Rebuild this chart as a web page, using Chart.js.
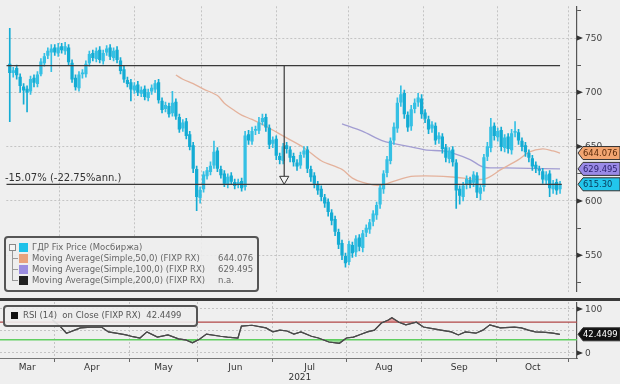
<!DOCTYPE html>
<html>
<head>
<meta charset="utf-8">
<script src="https://cdn.jsdelivr.net/npm/chart.js@4.4.1/dist/chart.umd.min.js"></script>
<style>
  body { margin: 0; width: 620px; height: 384px; overflow: hidden; position: relative; background: #efefef; font-family: "DejaVu Sans", sans-serif; }
  #main { position: absolute; left: 0; top: 0; }
  #rsi { position: absolute; left: 0; top: 302px; }
  #sep { position: absolute; left: 0; top: 298px; width: 620px; height: 3px; background: #3a3a3a; }
  #note { position: absolute; left: 5px; top: 172px; font-size: 10px; line-height: 12px; color: #333; white-space: nowrap; }
  .box { position: absolute; border: 2px solid #555; border-radius: 4px; background: rgba(237,237,237,0.9); font-size: 8.5px; color: #666; }
  .box span { position: absolute; white-space: pre; line-height: 11px; }
  .sw { width: 9px; height: 9px; }
  #leg { left: 4px; top: 236px; width: 251px; height: 52px; }
  #rleg { left: 3px; top: 305px; width: 191px; height: 18px; color: #555; }
  .tree-box { left: 3px; top: 6px; width: 5px; height: 5px; border: 1px solid #888; background: #f4f4f4; }
  .tree-v { left: 6px; top: 13px; width: 1px; height: 30px; background: #999; }
  .tree-h { left: 6px; width: 6px; height: 1px; background: #999; }
</style>
</head>
<body>
<canvas id="main" width="620" height="298"></canvas>
<div id="sep"></div>
<canvas id="rsi" width="620" height="82"></canvas>
<div id="note">-15.07% (-22.75%ann.)</div>
<div id="leg" class="box">
  <span class="tree-box"></span><span class="tree-v"></span>
  <span class="tree-h" style="top:20px"></span><span class="tree-h" style="top:31px"></span><span class="tree-h" style="top:42px"></span>
  <span class="sw" style="left:13px;top:5px;background:#1fc1e9"></span>
  <span style="left:26px;top:4px">ГДР Fix Price (Мосбиржа)</span>
  <span class="sw" style="left:13px;top:16px;background:#e9a27c"></span>
  <span style="left:26px;top:15px">Moving Average(Simple,50,0) (FIXP RX)</span>
  <span id="v50" style="left:212px;top:15px"></span>
  <span class="sw" style="left:13px;top:27px;background:#9b8de0"></span>
  <span style="left:26px;top:26px">Moving Average(Simple,100,0) (FIXP RX)</span>
  <span id="v100" style="left:212px;top:26px"></span>
  <span class="sw" style="left:13px;top:38px;background:#222"></span>
  <span style="left:26px;top:37px">Moving Average(Simple,200,0) (FIXP RX)</span>
  <span style="left:212px;top:37px">n.a.</span>
</div>
<div id="rleg" class="box">
  <span class="sw" style="left:6px;top:5px;width:7px;height:7px;background:#111"></span>
  <span id="rsiText" style="left:18px;top:3px"></span>
</div>
<script>
// daily candles, FIXP RX (trading-day index along x)
const opens = [
  726,718,722,714,705,703,701,713,708,717,
  727,734,737,741,736,742,738,741,727,713,
  704,717,717,727,736,731,739,729,737,741,
  732,739,729,721,711,709,702,707,699,703,
  695,701,703,709,692,685,687,681,691,677,
  667,673,661,651,629,603,611,623,627,633,
  646,629,625,615,623,617,615,618,613,661,
  655,665,665,673,677,667,653,657,641,637,
  651,647,641,635,633,643,647,629,623,615,
  611,603,599,589,583,571,561,549,544,559,
  553,566,557,571,574,581,587,597,611,626,
  637,656,667,691,699,679,669,685,691,694,
  681,675,667,669,657,659,649,639,647,635,
  611,604,615,619,617,623,607,613,641,649,
  669,659,665,649,659,647,663,663,655,651,
  644,639,633,629,627,619,625,611,617,611
];
const highs = [
  759,723,725,717,708,706,715,716,719,731,
  736,741,744,744,745,745,746,744,730,716,
  719,721,729,738,739,741,742,739,743,744,
  741,742,732,724,714,712,709,710,705,706,
  703,707,711,712,695,691,690,701,694,680,
  675,676,664,654,632,613,627,631,636,655,
  649,632,628,625,626,620,620,621,664,665,
  668,669,677,680,680,670,659,660,644,653,
  654,650,644,638,645,650,650,632,626,618,
  614,606,602,592,586,574,564,552,563,562,
  568,569,573,578,583,591,599,615,628,641,
  658,672,695,706,702,682,688,694,699,698,
  684,678,673,672,663,662,652,649,650,638,
  614,617,623,622,627,626,615,643,654,676,
  672,667,668,661,662,666,673,666,658,654,
  647,642,636,632,630,627,628,619,620,618
];
const lows = [
  673,714,712,700,689,682,698,705,705,715,
  724,731,719,734,733,736,735,725,709,702,
  701,713,714,724,729,728,727,726,734,730,
  729,727,717,709,705,692,699,697,696,693,
  692,698,700,690,681,682,677,678,675,663,
  664,657,647,626,591,598,608,620,624,630,
  627,621,613,612,615,611,612,609,610,652,
  652,661,662,670,664,648,649,638,634,634,
  644,636,632,628,630,640,626,618,612,606,
  600,594,586,578,568,556,546,539,541,548,
  549,554,553,567,570,577,583,593,607,622,
  634,652,663,687,676,664,665,681,687,676,
  672,662,663,652,653,644,636,635,632,593,
  597,600,611,612,613,603,601,609,637,645,
  656,655,646,645,644,643,659,652,646,641,
  636,628,626,624,616,615,604,607,606,607
];
const closes = [
  718,720,716,706,702,700,712,709,716,728,
  733,738,740,737,741,739,742,728,712,705,
  716,718,726,735,732,738,730,736,740,733,
  738,730,720,712,708,703,706,700,702,696,
  700,704,708,693,684,688,680,690,678,666,
  672,660,650,630,604,610,624,628,632,645,
  630,624,616,622,618,614,617,612,660,656,
  664,666,672,676,668,652,656,642,638,650,
  648,640,636,632,642,646,630,622,616,610,
  604,598,590,582,572,560,550,543,560,552,
  565,558,570,575,580,588,596,612,625,638,
  655,668,690,698,680,668,684,690,695,680,
  676,666,670,656,660,648,640,646,636,610,
  605,614,620,616,624,608,612,640,650,668,
  660,664,650,658,648,662,664,656,650,645,
  640,632,630,628,620,624,612,616,610,615.3
];

// moving averages (day index, value)
const ma50Idx = [48,50,53,56,60,62,65,67,70,75,80,85,90,96,99,102,107,110,115,120,128,137,142,147,150,154,157,159];
const ma50Val = [716,712,708,703,697,690,683,679,675,667,658,649,637,629,621,617,614,617,622,623,622,620,629,638,645,648,646,644.076];
const ma100Idx = [96,102,108,114,120,125,128,133,137,143,150,159];
const ma100Val = [671,664,655,651,647,646,644,638,631,630.5,630,629.495];

// RSI(14)
const rsiIdx = [14,16,18,22,25,28,30,33,35,37,39,41,44,47,50,52,54,56,58,62,64,67,68,71,75,77,79,81,83,85,88,90,93,96,98,100,102,104,106,108,110,111,113,115,118,120,123,125,128,130,132,135,137,139,142,146,148,150,152,155,157,159];
const rsiVal = [75,62,45,57,59,59,48,44,41,37,34,48,36,41,32,30,23,31,43,38,36,34,61,63,57,48,52,50,43,48,38,34,25,22,34,36,42,48,52,68,75,80,70,64,70,59,55,52,48,41,48,45,52,64,57,59,57,52,48,47,45,42.4499];

// trend annotation
const trendTop = 724.5, trendBottom = 615.3, trendIdx = 79.3, arrowTipBase = 622.6, arrowAt = 620.2;

// axes
const xMin = -1, xMax = 163.9;
const monthNames = ["Mar","Apr","May","Jun","Jul","Aug","Sep","Oct"];
const monthBounds = [14.5, 36, 55.5, 77, 98, 119.5, 141, 161.5];
const priceTicks = [525,550,575,600,625,650,675,700,725,750,775];
const priceLabels = [550,600,650,700,750];
const rsiGridTicks = [0,50,100];
const rsiLabels = [0,100];
const yearText = "2021", yearAt = 84.7;

const FONT = '"DejaVu Sans", sans-serif';
const last = closes.length - 1;

document.getElementById("v50").textContent = ma50Val[ma50Val.length - 1].toFixed(3);
document.getElementById("v100").textContent = ma100Val[ma100Val.length - 1].toFixed(3);
document.getElementById("rsiText").textContent = "RSI (14)  on Close (FIXP RX)  " + rsiVal[rsiVal.length - 1].toFixed(4);

const monthMids = monthBounds.map((b, k) => ((k === 0 ? xMin : monthBounds[k - 1]) + b) / 2);

function drawTag(ctx, x, y, text, bg, fg) {
  const h = 13;
  ctx.beginPath();
  ctx.moveTo(x, y);
  ctx.lineTo(x + 5, y - h / 2);
  ctx.lineTo(620, y - h / 2);
  ctx.lineTo(620, y + h / 2);
  ctx.lineTo(x + 5, y + h / 2);
  ctx.closePath();
  ctx.fillStyle = bg;
  ctx.fill();
  ctx.strokeStyle = "#333";
  ctx.lineWidth = 1;
  ctx.stroke();
  ctx.fillStyle = fg;
  ctx.font = "8.4px " + FONT;
  ctx.textAlign = "left";
  ctx.textBaseline = "middle";
  ctx.fillText(text, x + 5, y + 0.5);
}

function drawAxisLabels(ctx, area, scale, values) {
  ctx.font = "9px " + FONT;
  ctx.textBaseline = "middle";
  ctx.textAlign = "left";
  values.forEach(v => {
    const py = scale.getPixelForValue(v);
    ctx.fillStyle = "#333";
    ctx.beginPath();
    ctx.moveTo(area.right, py - 2.5);
    ctx.lineTo(area.right + 6, py);
    ctx.lineTo(area.right, py + 2.5);
    ctx.fill();
    ctx.fillStyle = "#444";
    ctx.fillText(String(v), area.right + 8, py + 0.5);
  });
}

const priceAxisPlugin = {
  id: "priceAxis",
  afterDraw(chart) {
    const { ctx, chartArea, scales } = chart;
    ctx.save();
    drawAxisLabels(ctx, chartArea, scales.y, priceLabels);
    const x0 = chartArea.right + 1;
    drawTag(ctx, x0, scales.y.getPixelForValue(ma50Val[ma50Val.length - 1]), ma50Val[ma50Val.length - 1].toFixed(3), "#f2a571", "#5a2a0a");
    drawTag(ctx, x0, scales.y.getPixelForValue(ma100Val[ma100Val.length - 1]), ma100Val[ma100Val.length - 1].toFixed(3), "#9a8ae6", "#2e2270");
    drawTag(ctx, x0, scales.y.getPixelForValue(closes[last]), closes[last].toFixed(2), "#22c6ec", "#083a5a");
    ctx.restore();
  }
};

const rsiAxisPlugin = {
  id: "rsiAxis",
  afterDraw(chart) {
    const { ctx, chartArea, scales } = chart;
    ctx.save();
    drawAxisLabels(ctx, chartArea, scales.y, rsiLabels);
    const v = rsiVal[rsiVal.length - 1];
    drawTag(ctx, chartArea.right + 1, scales.y.getPixelForValue(v), v.toFixed(4), "#111", "#fff");
    ctx.font = "9px " + FONT;
    ctx.fillStyle = "#333";
    ctx.textAlign = "center";
    ctx.textBaseline = "middle";
    ctx.fillText(yearText, scales.x.getPixelForValue(yearAt), chartArea.bottom + 20);
    ctx.restore();
  }
};

const candleUp = "#35c0e4";
const candleDown = "#14acd4";
const candleColor = ctx => {
  const i = ctx.dataIndex;
  return closes[i] >= opens[i] ? candleUp : candleDown;
};

const wickData = closes.map((c, i) => ({ x: i, y: [lows[i], highs[i]] }));
const bodyData = closes.map((c, i) => ({ x: i, y: [opens[i], c] }));

new Chart(document.getElementById("main"), {
  type: "bar",
  data: {
    datasets: [
      { type: "line", data: [{ x: trendIdx, y: arrowAt }], showLine: false, pointStyle: "triangle", rotation: 180, pointRadius: 5.3, pointBackgroundColor: "#f4f4f4", pointBorderColor: "#333", pointBorderWidth: 1, order: 0 },
      { type: "line", data: [{ x: xMin, y: trendTop }, { x: last, y: trendTop }], borderColor: "#3a3a3a", borderWidth: 1.2, pointRadius: 0, order: 1 },
      { type: "line", data: [{ x: xMin, y: trendBottom }, { x: last + 0.5, y: trendBottom }], borderColor: "#3a3a3a", borderWidth: 1.2, pointRadius: 0, order: 1 },
      { type: "line", data: [{ x: trendIdx, y: trendTop }, { x: trendIdx, y: arrowTipBase }], borderColor: "#3a3a3a", borderWidth: 1.2, pointRadius: 0, order: 1 },
      { type: "bar", data: bodyData, backgroundColor: candleColor, barThickness: 2.6, minBarLength: 1, grouped: false, order: 2 },
      { type: "bar", data: wickData, backgroundColor: candleColor, barThickness: 1, grouped: false, order: 3 },
      { type: "line", data: ma50Idx.map((x, k) => ({ x, y: ma50Val[k] })), borderColor: "#e4b29c", borderWidth: 1.3, pointRadius: 0, tension: 0.3, order: 5 },
      { type: "line", data: ma100Idx.map((x, k) => ({ x, y: ma100Val[k] })), borderColor: "#a29dd2", borderWidth: 1.3, pointRadius: 0, tension: 0.3, order: 5 }
    ]
  },
  options: {
    responsive: false,
    animation: false,
    devicePixelRatio: 1,
    layout: { padding: 0 },
    plugins: { legend: { display: false }, tooltip: { enabled: false } },
    scales: {
      x: {
        type: "linear", min: xMin, max: xMax, offset: false,
        afterBuildTicks: s => { s.ticks = monthBounds.map(v => ({ value: v })); },
        afterFit: s => { s.height = 0; },
        ticks: { display: false },
        grid: { color: "#c4c4c4", drawTicks: false, offset: false },
        border: { display: false, dash: [2, 2] }
      },
      y: {
        position: "right", min: 516.4, max: 779.2,
        afterBuildTicks: s => { s.ticks = priceTicks.map(v => ({ value: v })); },
        afterFit: s => { s.width = 43; },
        ticks: { display: false },
        grid: {
          color: c => (c.tick && priceLabels.includes(c.tick.value)) ? "#c4c4c4" : "rgba(0,0,0,0)",
          tickColor: "#555", tickLength: 4, drawTicks: true
        },
        border: { display: true, color: "#555", width: 1.2, dash: [2, 2] }
      }
    }
  },
  plugins: [priceAxisPlugin]
});

const rsiPoints = rsiIdx.map((x, k) => ({ x, y: rsiVal[k] }));
const xTickVals = monthMids.concat(monthBounds).sort((a, b) => a - b);

new Chart(document.getElementById("rsi"), {
  type: "line",
  data: {
    datasets: [
      { data: rsiPoints, borderColor: "#4a4a4a", borderWidth: 1.2, pointRadius: 0, fill: { target: { value: 70 }, above: "rgba(205,70,70,0.45)", below: "rgba(0,0,0,0)" }, order: 1 },
      { data: rsiPoints, borderColor: "#4a4a4a", borderWidth: 1.2, pointRadius: 0, fill: { target: { value: 30 }, above: "rgba(0,0,0,0)", below: "rgba(80,200,80,0.55)" }, order: 1 },
      { data: [{ x: xMin, y: 70 }, { x: xMax, y: 70 }], borderColor: "#b04a4a", borderWidth: 1.3, pointRadius: 0, order: 2 },
      { data: [{ x: xMin, y: 30 }, { x: xMax, y: 30 }], borderColor: "#62cf62", borderWidth: 1.5, pointRadius: 0, order: 2 }
    ]
  },
  options: {
    responsive: false,
    animation: false,
    devicePixelRatio: 1,
    layout: { padding: 0 },
    plugins: { legend: { display: false }, tooltip: { enabled: false } },
    scales: {
      x: {
        type: "linear", min: xMin, max: xMax, offset: false,
        afterBuildTicks: s => { s.ticks = xTickVals.map(v => ({ value: v })); },
        afterFit: s => { s.height = 26; },
        ticks: {
          autoSkip: false, maxRotation: 0, padding: 0, color: "#333",
          font: { family: FONT, size: 9 },
          callback: v => { const k = monthMids.indexOf(v); return k >= 0 ? monthNames[k] : ""; }
        },
        grid: {
          color: c => (c.tick && monthBounds.includes(c.tick.value)) ? "#c4c4c4" : "rgba(0,0,0,0)",
          tickColor: c => (c.tick && monthBounds.includes(c.tick.value)) ? "#666" : "rgba(0,0,0,0)",
          tickLength: 4
        },
        border: { display: true, color: "#777", dash: [2, 2] }
      },
      y: {
        position: "right", min: -11.4, max: 115.9,
        afterBuildTicks: s => { s.ticks = rsiGridTicks.map(v => ({ value: v })); },
        afterFit: s => { s.width = 43; },
        ticks: { display: false },
        grid: {
          color: "#c4c4c4",
          tickColor: c => (c.tick && rsiLabels.includes(c.tick.value)) ? "#555" : "rgba(0,0,0,0)",
          tickLength: 4
        },
        border: { display: true, color: "#555", width: 1.2, dash: [2, 2] }
      }
    }
  },
  plugins: [rsiAxisPlugin]
});
</script>
</body>
</html>
